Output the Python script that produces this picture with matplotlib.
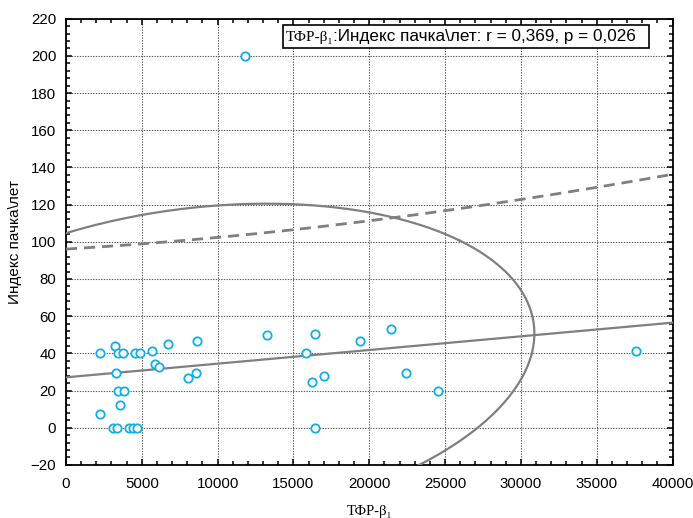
import matplotlib.pyplot as plt
import numpy as np
from matplotlib.ticker import MultipleLocator
from matplotlib.patches import Rectangle

plt.rcParams['font.family'] = ['Liberation Sans', 'DejaVu Sans']

# data
tgf = [2243, 3232, 3450, 3740, 4551, 4881, 5673, 6748, 8661, 5871, 6154, 3278,
       8047, 8555, 3450, 3850, 3562, 2243, 3120, 3344, 4156, 4439, 4703,
       13278, 16405, 19393, 21418, 15811, 17018, 16207, 22427, 24518, 16405,
       11808, 37580]
pack = [40, 44, 40, 40, 40, 40, 41.4, 45, 46.5, 34.3, 32.8, 29.6,
        27, 29.6, 20, 20, 12.4, 7.5, 0, 0, 0, 0, 0,
        50, 50.6, 46.5, 53, 40, 28, 24.6, 29.6, 20, 0,
        200, 41]

# regression line, prediction band (upper), 95% ellipse
reg_b0 = 27.1
reg_b1 = 0.000735
band_mid = 9000
band_half = 67.9
band_scale = 50190
ell_cx, ell_cy = 8772, 33
ell_ax, ell_ay = 22118, 87.5
ell_r = 0.202

xlab = 'ТФР-β₁'
ylab = 'Индекс пачка\\лет'
stat_txt = ':Индекс пачка\\лет: r = 0,369, p = 0,026'

fig = plt.figure(figsize=(6.93, 5.18), dpi=100)
ax = fig.add_axes([66/693, 1-464.9/518, (672.5-66)/693, (464.9-18.7)/518])

gray = '#7f7f7f'
xx = np.linspace(0, 40000, 400)
ax.plot(xx, reg_b0 + reg_b1*xx, color=gray, lw=1.6, zorder=3)
band = reg_b0 + reg_b1*xx + band_half*np.sqrt(1 + ((xx-band_mid)/band_scale)**2)
ax.plot(xx, band, color=gray, lw=2, ls=(0, (4, 2.5)), zorder=3)

t = np.linspace(0, 2*np.pi, 600)
# correlated ellipse in standardized coords
a = np.sqrt(1+ell_r); b = np.sqrt(1-ell_r)
u = (a*np.cos(t) - b*np.sin(t))/np.sqrt(2)
v = (a*np.cos(t) + b*np.sin(t))/np.sqrt(2)
ax.plot(ell_cx + ell_ax*u, ell_cy + ell_ay*v, color=gray, lw=1.6, zorder=3)

ax.scatter(tgf, pack, s=36, facecolors='white', edgecolors='#11aee8', linewidths=1.3, zorder=4)

ax.set_xlim(0, 40000)
ax.set_ylim(-20, 220)
ax.xaxis.set_major_locator(MultipleLocator(5000))
ax.xaxis.set_minor_locator(MultipleLocator(1000))
ax.yaxis.set_major_locator(MultipleLocator(20))
ax.yaxis.set_minor_locator(MultipleLocator(4))
ax.grid(True, which='major', color='#5a5a5a', lw=0.8, ls=(0, (1.2, 1.2)))
ax.tick_params(which='both', direction='in', top=True, right=True, width=1.1, labelsize=10.8, colors='black')
ax.tick_params(which='major', length=4, pad=7)
ax.tick_params(axis='x', which='major', pad=9)
ax.tick_params(which='minor', length=3)
for s in ax.spines.values():
    s.set_linewidth(1.3)

ax.set_ylabel(ylab, fontsize=11, labelpad=6)
ax.set_xlabel(xlab, fontsize=10.5, family=['Liberation Serif', 'DejaVu Serif'], labelpad=10)

ax.add_patch(Rectangle((0.357, 0.934), 0.605, 0.053, transform=ax.transAxes,
                       facecolor='white', edgecolor='black', lw=1.2, zorder=5))
t1 = ax.text(0.362, 0.949, xlab, transform=ax.transAxes, fontsize=11,
             family=['Liberation Serif', 'DejaVu Serif'], zorder=6, va='baseline')
ax.annotate(stat_txt, xy=(1, 0), xycoords=t1, fontsize=12.3, va='bottom', zorder=6)

plt.savefig('out.png', dpi=100)
